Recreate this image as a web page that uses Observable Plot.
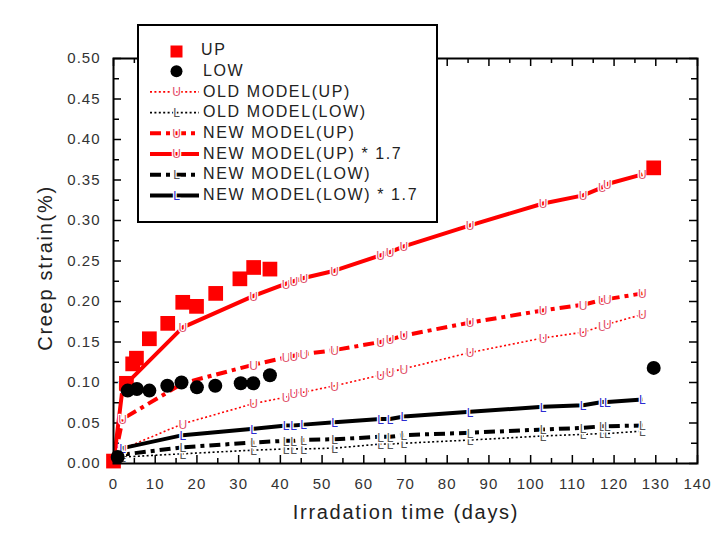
<!DOCTYPE html>
<html><head><meta charset="utf-8">
<script src="https://cdn.jsdelivr.net/npm/d3@7"></script>
<script src="https://cdn.jsdelivr.net/npm/@observablehq/plot@0.6"></script>
<style>body{margin:0;background:#fff}</style>
</head><body><div id="chart"></div><script>
// ---------- data ----------
const upDays  = [0, 3.1, 4.6, 5.5, 8.6, 13, 16.6, 19.9, 24.5, 30.3, 33.6, 37.5, 129.5];
const upStrain = [0.003, 0.099, 0.123, 0.130, 0.154, 0.173, 0.199, 0.194, 0.210, 0.228, 0.242, 0.240, 0.365];
const lowDays = [1, 3.4, 5.6, 8.6, 12.9, 16.3, 20, 24.4, 30.5, 33.5, 37.5, 129.5];
const lowStrain = [0.008, 0.090, 0.092, 0.090, 0.096, 0.100, 0.094, 0.096, 0.099, 0.099, 0.109, 0.118];

const modelDays   = [0, 2.2, 16.6, 33.6, 41.4, 43.2, 45.6, 53, 64, 66.3, 69.6, 85.5, 103, 112.6, 117.2, 118.4, 126.8];
const oldUp       = [0, 0.018, 0.049, 0.074, 0.082, 0.087, 0.088, 0.096, 0.109, 0.113, 0.117, 0.137, 0.155, 0.162, 0.170, 0.172, 0.184];
const oldLow      = [0, 0.008, 0.012, 0.0165, 0.018, 0.018, 0.018, 0.019, 0.024, 0.024, 0.025, 0.029, 0.034, 0.036, 0.037, 0.037, 0.040];
const newUp       = [0, 0.055, 0.099, 0.122, 0.131, 0.133, 0.135, 0.140, 0.150, 0.153, 0.158, 0.174, 0.189, 0.196, 0.202, 0.203, 0.210];
const newUp17     = [0, 0.094, 0.168, 0.207, 0.222, 0.225, 0.229, 0.238, 0.257, 0.261, 0.268, 0.294, 0.321, 0.331, 0.341, 0.345, 0.357];
const newLow      = [0, 0.011, 0.020, 0.026, 0.028, 0.028, 0.029, 0.030, 0.033, 0.033, 0.035, 0.038, 0.042, 0.044, 0.046, 0.046, 0.047];
const newLow17    = [0, 0.019, 0.035, 0.043, 0.047, 0.047, 0.048, 0.051, 0.055, 0.055, 0.058, 0.064, 0.070, 0.072, 0.076, 0.076, 0.079];

const xMajorTicks = d3.range(0, 141, 10);
const xMinorTicks = d3.range(5, 140, 10);
const yMajorTicks = [0, 0.05, 0.10, 0.15, 0.20, 0.25, 0.30, 0.35, 0.40, 0.45, 0.50];
const yMinorTicks = [0.025, 0.075, 0.125, 0.175, 0.225, 0.275, 0.325, 0.375, 0.425, 0.475];

// ---------- styles ----------
const RED = "#ff0000";
const series = [
  {name: "OLD MODEL(UP)",          values: oldUp,    stroke: RED,   width: 1.6, dash: "2,2.4", mk: "U", mkFill: "#e0506a"},
  {name: "OLD MODEL(LOW)",         values: oldLow,   stroke: "#000", width: 1.6, dash: "2,2.4", mk: "L", mkFill: "#555"},
  {name: "NEW MODEL(UP)",          values: newUp,    stroke: RED,   width: 4, dash: "11,5,4,5", mk: "U", mkFill: "#e0506a"},
  {name: "NEW MODEL(UP) * 1.7",    values: newUp17,  stroke: RED,   width: 4, dash: null, mk: "U", mkFill: "#e0506a"},
  {name: "NEW MODEL(LOW)",         values: newLow,   stroke: "#000", width: 4, dash: "11,5,4,5", mk: "L", mkFill: "#555"},
  {name: "NEW MODEL(LOW) * 1.7",   values: newLow17, stroke: "#000", width: 4, dash: null, mk: "L", mkFill: "#2b2bd0"}
];
series.forEach(s => s.rows = modelDays.map((t, i) => ({t, v: s.values[i]})));
const upRows = upDays.map((t, i) => ({t, v: upStrain[i]}));
const lowRows = lowDays.map((t, i) => ({t, v: lowStrain[i]}));

const W = 727, H = 537, mL = 113, mR = 30, mT = 58, mB = 74;
const plotW = W - mL - mR, plotH = H - mT - mB;
const FONT = "'Liberation Sans', Arial, sans-serif";

const marks = [];
// ticks (inward, on all four sides)
marks.push(Plot.ruleX(xMajorTicks, {x: d => d, insetTop: plotH - 8, stroke: "#000", strokeWidth: 1.5}));
marks.push(Plot.ruleX(xMinorTicks, {x: d => d, insetTop: plotH - 5, stroke: "#000", strokeWidth: 1.5}));
marks.push(Plot.ruleX(xMajorTicks, {x: d => d, insetBottom: plotH - 8, stroke: "#000", strokeWidth: 1.5}));
marks.push(Plot.ruleX(xMinorTicks, {x: d => d, insetBottom: plotH - 5, stroke: "#000", strokeWidth: 1.5}));
marks.push(Plot.ruleY(yMajorTicks, {y: d => d, insetRight: plotW - 8, stroke: "#000", strokeWidth: 1.5}));
marks.push(Plot.ruleY(yMinorTicks, {y: d => d, insetRight: plotW - 6, stroke: "#000", strokeWidth: 1.5}));
marks.push(Plot.ruleY(yMajorTicks, {y: d => d, insetLeft: plotW - 8, stroke: "#000", strokeWidth: 1.5}));
marks.push(Plot.ruleY(yMinorTicks, {y: d => d, insetLeft: plotW - 6, stroke: "#000", strokeWidth: 1.5}));

// model lines
for (const s of series) {
  marks.push(Plot.line(s.rows, {x: "t", y: "v", stroke: s.stroke, strokeWidth: s.width,
    strokeDasharray: s.dash, strokeLinecap: "butt", strokeLinejoin: "round"}));
}
for (const s of series) {
  marks.push(Plot.text(s.rows.filter(d => d.t > 0), {x: "t", y: "v", text: () => s.mk,
    fill: s.mkFill, stroke: "white", strokeWidth: 2.5, fontSize: 12, dy: 1}));
}
// measured points
marks.push(Plot.dot(upRows, {x: "t", y: "v", symbol: "square", r: 8.3, fill: RED}));
marks.push(Plot.dot(lowRows, {x: "t", y: "v", r: 7, fill: "#000"}));

marks.push(Plot.frame({stroke: "#000", strokeWidth: 2}));
marks.push(Plot.axisX({ticks: xMajorTicks, tickSize: 0, tickPadding: 15, tickFormat: d => d, fontSize: 15, fill: "#333", label: null}));
marks.push(Plot.axisY({ticks: yMajorTicks, tickSize: 0, tickPadding: 13, tickFormat: d3.format(".2f"), fontSize: 15, fill: "#333", label: null}));

const chart = Plot.plot({
  width: W, height: H,
  marginLeft: mL, marginRight: mR, marginTop: mT, marginBottom: mB,
  style: {fontFamily: FONT, background: "white", overflow: "visible"},
  x: {domain: [0, 140]},
  y: {domain: [0, 0.5]},
  marks
});
document.getElementById("chart").appendChild(chart);

const svg = d3.select(chart);
svg.selectAll("g[aria-label='x-axis tick label'] text, g[aria-label='y-axis tick label'] text").attr("letter-spacing", "1px");

// axis titles
svg.append("text").attr("x", 406).attr("y", 519).attr("text-anchor", "middle")
  .attr("font-size", 20).attr("letter-spacing", "1.7px").attr("fill", "#222").attr("font-family", FONT)
  .text("Irradation time (days)");
svg.append("text").attr("transform", "translate(52,268) rotate(-90)").attr("text-anchor", "middle")
  .attr("font-size", 20).attr("letter-spacing", "1.7px").attr("fill", "#222").attr("font-family", FONT)
  .text("Creep strain(%)");

// legend
const lg = svg.append("g").attr("font-family", FONT);
lg.append("rect").attr("x", 138).attr("y", 25).attr("width", 299).attr("height", 197)
  .attr("fill", "white").attr("stroke", "#000").attr("stroke-width", 2);
const rowY = i => 49.5 + i * 20.7;
const sx = 176.5;
lg.append("rect").attr("x", sx - 6).attr("y", rowY(0) + 2 - 6).attr("width", 12).attr("height", 12).attr("fill", RED);
lg.append("circle").attr("cx", sx).attr("cy", rowY(1) + 1).attr("r", 6).attr("fill", "#000");
const labels = ["UP", "LOW", ...series.map(s => s.name)];
labels.forEach((name, i) => {
  lg.append("text").attr("x", i === 0 ? 201 : 203).attr("y", rowY(i)).attr("dy", "0.36em")
    .attr("text-anchor", "start")
    .attr("font-size", 16).attr("letter-spacing", "1.6px").attr("fill", "#222").text(name);
});
series.forEach((s, j) => {
  const y = rowY(j + 2) + 1;
  lg.append("line").attr("x1", 150).attr("x2", 199).attr("y1", y).attr("y2", y)
    .attr("stroke", s.stroke).attr("stroke-width", s.width)
    .attr("stroke-dasharray", s.dash).attr("stroke-linecap", "butt");
  lg.append("text").attr("x", sx).attr("y", y).attr("dy", "0.36em").attr("text-anchor", "middle")
    .attr("font-size", 12).attr("fill", s.mkFill).attr("stroke", "white").attr("stroke-width", 2.5)
    .attr("paint-order", "stroke").text(s.mk);
});
</script></body></html>
